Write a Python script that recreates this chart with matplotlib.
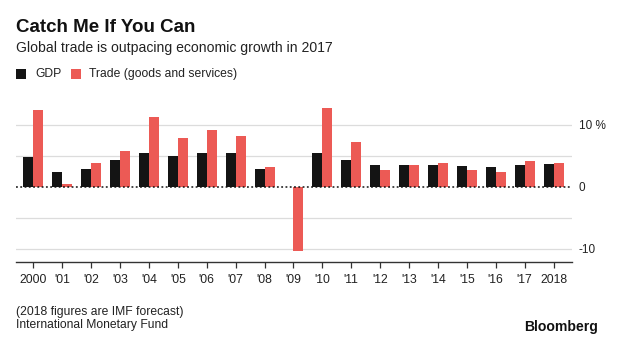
import matplotlib
matplotlib.use("Agg")
import matplotlib.pyplot as plt
from matplotlib.patches import Rectangle

plt.rcParams['font.family'] = ['Liberation Sans', 'DejaVu Sans']

years = ["2000", "'01", "'02", "'03", "'04", "'05", "'06", "'07", "'08", "'09",
         "'10", "'11", "'12", "'13", "'14", "'15", "'16", "'17", "2018"]
gdp = [4.8, 2.3, 2.9, 4.3, 5.4, 4.9, 5.5, 5.5, 2.9, -0.1,
       5.4, 4.3, 3.5, 3.5, 3.5, 3.4, 3.1, 3.5, 3.7]
trade = [12.4, 0.4, 3.9, 5.8, 11.3, 7.8, 9.2, 8.1, 3.1, -10.4,
         12.7, 7.2, 2.7, 3.5, 3.8, 2.7, 2.3, 4.2, 3.9]
ytick_vals = [-10, 0, 10]
ytick_labels = ["-10", "0", "10 %"]
grid_vals = [-10, -5, 5, 10]

GDP_COLOR = "#141414"
TRADE_COLOR = "#ec5a55"

W, H = 620, 341
fig = plt.figure(figsize=(W / 100, H / 100), dpi=100, facecolor="white")


def fx(x):
    return x / W


def fy(y):
    return 1 - y / H


# plot area in pixel terms
left, right, top, bottom = 15.7, 572, 99.9, 261.7
ax = fig.add_axes([fx(left), fy(bottom), fx(right - left), (bottom - top) / H])

n = len(years)
xs = list(range(n))
bw = 0.346
ax.bar([x - bw / 2 for x in xs], gdp, width=bw, color=GDP_COLOR, linewidth=0, zorder=3)
ax.bar([x + bw / 2 for x in xs], trade, width=bw, color=TRADE_COLOR, linewidth=0, zorder=3)

ax.set_xlim(-0.61, 18.64)
ax.set_ylim(-12.1, 14)

for g in grid_vals:
    ax.axhline(g, color="#dcdcdc", linewidth=0.9, zorder=1)
ax.axhline(0, color="#111111", linewidth=1.1, linestyle=(0, (1.2, 1.6)), zorder=4)

for s in ["top", "right", "left"]:
    ax.spines[s].set_visible(False)
ax.spines["bottom"].set_color("#333333")
ax.spines["bottom"].set_linewidth(1.0)

ax.set_xticks(xs)
ax.set_xticklabels(years, fontsize=8.8, color="#222222")
ax.tick_params(axis="x", length=4, width=0.9, color="#333333", pad=5)

ax.yaxis.tick_right()
ax.set_yticks(ytick_vals)
ax.set_yticklabels(ytick_labels, fontsize=8.5, color="#222222")
ax.tick_params(axis="y", length=0, pad=5)

# headline, subtitle
fig.text(fx(15.7), fy(32.3), "Catch Me If You Can", fontsize=13.5, fontweight="bold",
         color="#111111", va="baseline", ha="left")
fig.text(fx(15.7), fy(51.7), "Global trade is outpacing economic growth in 2017",
         fontsize=10.1, color="#222222", va="baseline", ha="left")

# legend
for x0, col in [(16, GDP_COLOR), (71, TRADE_COLOR)]:
    fig.add_artist(Rectangle((fx(x0), fy(79)), fx(10), 10 / H, transform=fig.transFigure,
                             facecolor=col, edgecolor="none"))
fig.text(fx(35), fy(73.8), "GDP", fontsize=8.7, color="#222222", va="center", ha="left")
fig.text(fx(89), fy(73.8), "Trade (goods and services)", fontsize=8.7, color="#222222",
         va="center", ha="left")

# footer
fig.text(fx(15.7), fy(311.7), "(2018 figures are IMF forecast)", fontsize=8.7,
         color="#222222", va="center", ha="left")
fig.text(fx(15.7), fy(325.3), "International Monetary Fund", fontsize=8.7,
         color="#222222", va="center", ha="left")
fig.text(fx(598), fy(327), "Bloomberg", fontsize=10.1, fontweight="bold",
         color="#111111", va="center", ha="right")

fig.savefig("out.png", dpi=100, facecolor="white")
